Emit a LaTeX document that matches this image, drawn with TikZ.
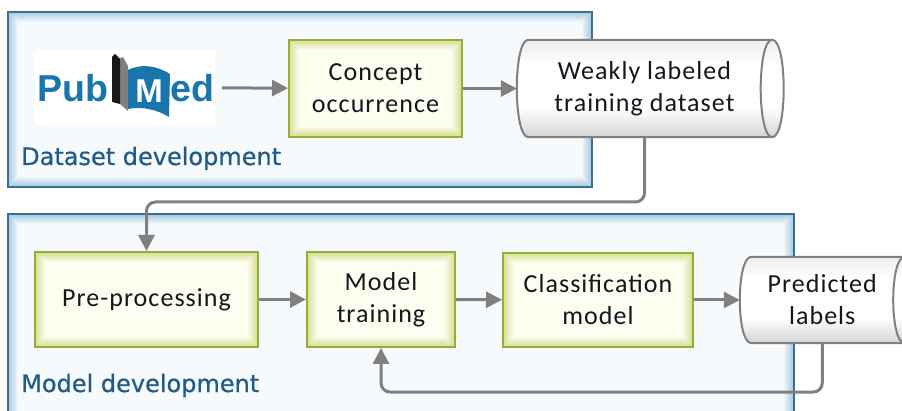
\documentclass[tikz,border=0pt]{standalone}
\usepackage{fontspec}
\setmainfont{Carlito}[LetterSpace=4]
\newfontfamily\lblfont{DejaVu Sans}[FakeBold=0.6]
\newfontfamily\logofont{Liberation Sans}
\usetikzlibrary{arrows.meta}
\pgfdeclarelayer{panel}
\pgfdeclarelayer{shapes}
\pgfsetlayers{panel,shapes,main}
\definecolor{panelborder}{RGB}{60,110,146}
\definecolor{panelglow}{RGB}{160,196,222}
\definecolor{panelfill}{RGB}{246,250,253}
\definecolor{boxborder}{RGB}{150,175,48}
\definecolor{boxglow}{RGB}{205,216,128}
\definecolor{boxfill}{RGB}{253,253,240}
\definecolor{cylline}{RGB}{128,128,128}
\definecolor{cylbot}{RGB}{212,212,212}
\definecolor{cyltop}{RGB}{238,238,238}
\definecolor{arrowgray}{RGB}{128,128,128}
\definecolor{textdark}{RGB}{22,22,30}
\definecolor{lbltext}{RGB}{34,92,134}
\definecolor{pmblue}{RGB}{27,117,173}
\pgfdeclareverticalshading{cylsh}{100bp}{color(0bp)=(cylbot); color(25bp)=(cylbot); color(40bp)=(white); color(62bp)=(white); color(75bp)=(cyltop); color(100bp)=(cyltop)}
\newcommand\glowfill[4]{%
  \fill[#3] (#1.north west) rectangle (#1.south east);
  \foreach \i in {1,...,#4}{%
    \pgfmathtruncatemacro\p{100*\i/#4}%
    \draw[line width=1.4pt, #3!\p!#2] ([xshift=\i pt,yshift=-\i pt]#1.north west) rectangle ([xshift=-\i pt,yshift=\i pt]#1.south east);
  }}
\newcommand\cylbody[1]{([xshift=11.5pt]#1.north west) .. controls ([xshift=-3.83pt]#1.north west) and ([xshift=-3.83pt]#1.south west) .. ([xshift=11.5pt]#1.south west) -- (#1.south east) .. controls ([xshift=15.33pt]#1.south east) and ([xshift=15.33pt]#1.north east) .. (#1.north east) -- cycle}
\newcommand\cylend[1]{(#1.north east) .. controls ([xshift=-15.33pt]#1.north east) and ([xshift=-15.33pt]#1.south east) .. (#1.south east)}
\tikzset{
  panelbox/.style={draw=panelborder, line width=2.2pt, inner sep=0pt},
  stepbox/.style={draw=boxborder, line width=2pt, inner sep=0pt, align=center, text=textdark, font=\fontsize{26}{32}\selectfont},
  cylnode/.style={inner sep=0pt, align=center, text=textdark, font=\fontsize{26}{32}\selectfont},
  cyledge/.style={draw=cylline, line width=2pt},
  arr/.style={draw=arrowgray, line width=3pt, -{Triangle[length=16pt,width=16pt]}},
  lbl/.style={anchor=base west, inner sep=0pt, text=lbltext, font=\lblfont\fontsize{24}{28}\selectfont},
  logotxt/.style={anchor=base west, inner sep=0pt, text=pmblue, font=\logofont\bfseries\fontsize{37.5}{40}\selectfont},
}
\begin{document}
\begin{tikzpicture}[x=1pt,y=-1pt]
\useasboundingbox (0,0) rectangle (902,411);
\clip (0,0) rectangle (902,411);
% panels
\begin{pgfonlayer}{panel}
  \node[panelbox, minimum width=582pt, minimum height=173pt] (p1) at (300,99.5) {};
  \node[panelbox, minimum width=784pt, minimum height=215pt] (p2) at (401,322.5) {};
  \glowfill{p1}{panelglow}{panelfill}{11}
  \glowfill{p2}{panelglow}{panelfill}{11}
  \draw[panelborder, line width=2.2pt] (p1.north west) rectangle (p1.south east);
  \draw[panelborder, line width=2.2pt] (p2.north west) rectangle (p2.south east);
\end{pgfonlayer}
\node[lbl] (l1) at (21,165) {Dataset development};
\node[lbl] (l2) at (21,392) {Model development};
% PubMed logo
\node[fill=white, minimum width=180pt, minimum height=75pt, inner sep=0pt] (pubmed) at (125,87.5) {};
\node[logotxt] (pub) at (37,102) {Pub};
\node[logotxt] (ed) at (170,102) {ed};
\fill[black!50] (119,59) -- (123,57) -- (128,66) -- (128,111) -- (120,104) -- cycle;
\fill[black!90] (112,102) -- (112,57) -- (115,54) -- (120,59) -- (120,104) -- cycle;
\fill[pmblue] (128,70) .. controls (142,63) and (157,66) .. (170,74) -- (169,117) .. controls (158,110) and (142,106) .. (128,109) -- cycle;
\node[anchor=base, inner sep=0pt, text=white, font=\logofont\bfseries\fontsize{33}{34}\selectfont] (pmm) at (149,103) {M};
% process boxes
\node[stepbox, minimum width=173pt, minimum height=97pt] (co) at (375.5,88.5) {Concept\\occurrence};
\node[stepbox, minimum width=223pt, minimum height=95pt] (pre) at (146.5,299.5) {Pre-processing};
\node[stepbox, minimum width=148pt, minimum height=95pt] (mt) at (381,299.5) {Model\\training};
\node[stepbox, minimum width=190pt, minimum height=94pt] (cm) at (598,300) {Classification\\model};
\begin{pgfonlayer}{shapes}
  \glowfill{co}{boxglow}{boxfill}{12}
  \glowfill{pre}{boxglow}{boxfill}{12}
  \glowfill{mt}{boxglow}{boxfill}{12}
  \glowfill{cm}{boxglow}{boxfill}{12}
\end{pgfonlayer}
% cylinders
\node[cylnode, minimum width=255pt, minimum height=97pt] (wl) at (644.5,88.5) {Weakly labeled\\training dataset};
\node[cylnode, minimum width=164.5pt, minimum height=86pt] (pl) at (822.25,300) {Predicted\\labels};
\begin{pgfonlayer}{shapes}
  \shade[shading=cylsh] \cylbody{wl};
  \shade[shading=cylsh] \cylbody{pl};
\end{pgfonlayer}
\draw[cyledge] \cylbody{wl};
\draw[cyledge] \cylend{wl};
\draw[cyledge] \cylbody{pl};
\draw[cyledge] \cylend{pl};
% connectors
\coordinate (tb) at (0,202);
\coordinate (fb) at (0,392);
\draw[arr, shorten <=7pt] (pubmed) -- (co);
\draw[arr] (co) -- (wl);
\draw[arr, rounded corners=9pt] (wl.south) -- (wl.south |- tb) -- (pre.north |- tb) -- (pre.north);
\draw[arr] (pre) -- (mt);
\draw[arr] (mt) -- (cm);
\draw[arr] (cm) -- (pl);
\draw[arr, rounded corners=9pt] (pl.south) -- (pl.south |- fb) -- (mt.south |- fb) -- (mt.south);
\end{tikzpicture}
\end{document}
